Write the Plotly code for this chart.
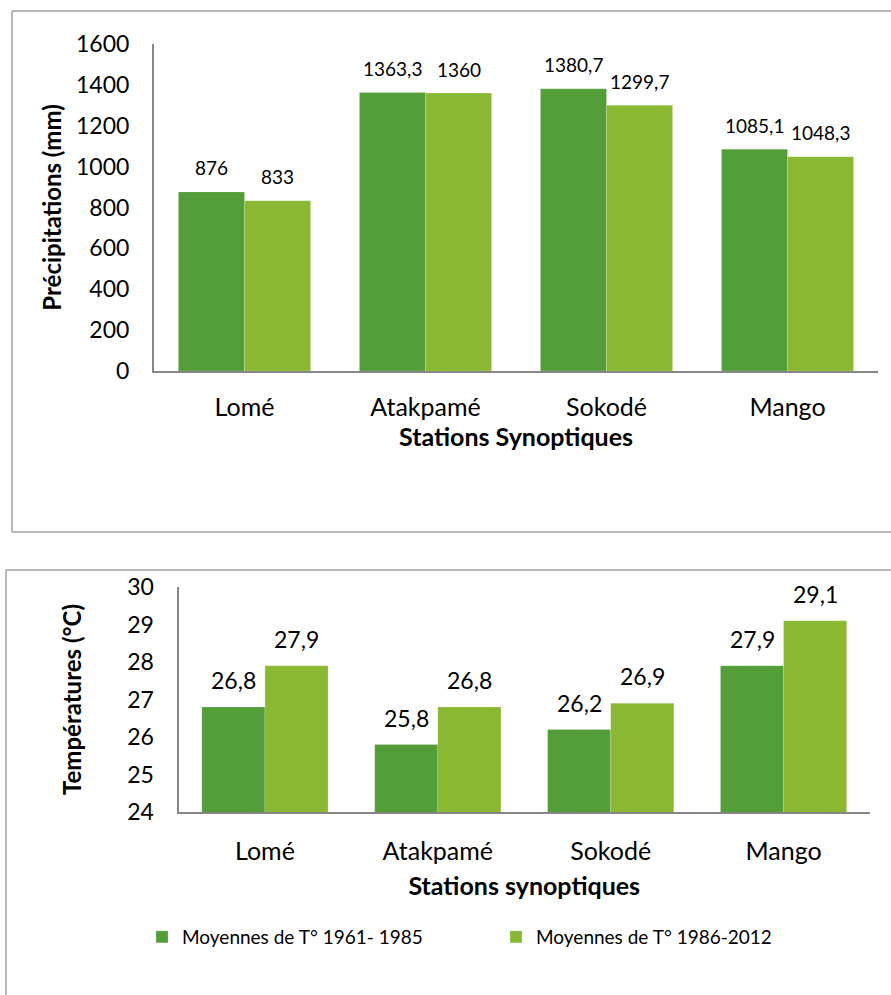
import plotly.graph_objects as go

# ---------------- data ----------------
stations = ["Lomé", "Atakpamé", "Sokodé", "Mango"]
series_names = ["Moyennes de T° 1961- 1985", "Moyennes de T° 1986-2012"]

precip_1961_1985 = [876, 1363.3, 1380.7, 1085.1]
precip_1986_2012 = [833, 1360, 1299.7, 1048.3]

temp_1961_1985 = [26.8, 25.8, 26.2, 27.9]
temp_1986_2012 = [27.9, 26.8, 26.9, 29.1]

precip_ticks = [0, 200, 400, 600, 800, 1000, 1200, 1400, 1600]
temp_ticks = [24, 25, 26, 27, 28, 29, 30]

# ---------------- styling ----------------
W, H = 891, 995
DARK = "#549E39"
LIGHT = "#8AB833"
AXIS = "#868686"
BORDER = "#A0A0A0"
FONT = "Lato"
BARGAP = 0.27


def fx(p):
    return p / W


def fy(p):
    return 1 - p / H


def fmt(v):
    return f"{v:g}".replace(".", ",")


top_dom_x = (154, 878)
top_dom_y = (371, 44)
bot_dom_x = (178.5, 870)
bot_dom_y = (812, 587)

fig = go.Figure()

for vals, name, col in [(precip_1961_1985, series_names[0], DARK),
                        (precip_1986_2012, series_names[1], LIGHT)]:
    fig.add_trace(go.Bar(x=stations, y=vals, name=name, marker_color=col,
                         marker_line=dict(color="rgba(255,255,255,0.35)", width=0.5),
                         xaxis="x", yaxis="y", showlegend=False))

for vals, name, col in [(temp_1961_1985, series_names[0], DARK),
                        (temp_1986_2012, series_names[1], LIGHT)]:
    fig.add_trace(go.Bar(x=stations, y=vals, name=name, marker_color=col,
                         marker_line=dict(color="rgba(255,255,255,0.35)", width=0.5),
                         xaxis="x2", yaxis="y2", showlegend=True))

annotations = []
# data labels, top chart
cat_w_top = (top_dom_x[1] - top_dom_x[0]) / len(stations)
bar_top = cat_w_top * (1 - BARGAP) / 2
for j, vals in enumerate([precip_1961_1985, precip_1986_2012]):
    sh = (-0.5 if j == 0 else 0.5) * bar_top
    for s, v in zip(stations, vals):
        annotations.append(dict(x=s, y=v, xref="x", yref="y", text=fmt(v),
                                showarrow=False, xshift=sh, yshift=24,
                                yanchor="middle",
                                font=dict(family=FONT, size=19, color="#000")))
# data labels, bottom chart
cat_w_bot = (bot_dom_x[1] - bot_dom_x[0]) / len(stations)
bar_bot = cat_w_bot * (1 - BARGAP) / 2
for j, vals in enumerate([temp_1961_1985, temp_1986_2012]):
    sh = (-0.5 if j == 0 else 0.5) * bar_bot
    for s, v in zip(stations, vals):
        annotations.append(dict(x=s, y=v, xref="x2", yref="y2", text=fmt(v),
                                showarrow=False, xshift=sh, yshift=27,
                                yanchor="middle",
                                font=dict(family=FONT, size=23, color="#000")))

shapes = [
    # top panel border
    dict(type="line", xref="paper", yref="paper", x0=fx(12), x1=1.05, y0=fy(11), y1=fy(11),
         line=dict(color=BORDER, width=1.5)),
    dict(type="line", xref="paper", yref="paper", x0=fx(12), x1=fx(12), y0=fy(11), y1=fy(532),
         line=dict(color=BORDER, width=1.5)),
    dict(type="line", xref="paper", yref="paper", x0=fx(12), x1=1.05, y0=fy(532), y1=fy(532),
         line=dict(color=BORDER, width=1.5)),
    # bottom panel border
    dict(type="line", xref="paper", yref="paper", x0=fx(6), x1=1.05, y0=fy(570), y1=fy(570),
         line=dict(color=BORDER, width=1.5)),
    dict(type="line", xref="paper", yref="paper", x0=fx(6), x1=fx(6), y0=fy(570), y1=-0.05,
         line=dict(color=BORDER, width=1.5)),
]

tickfont = dict(family=FONT, size=23, color="#000")
catfont = dict(family=FONT, size=25, color="#000")
titlefont = dict(family=FONT, size=25, color="#000")
ytitlefont = dict(family=FONT, size=24, color="#000")

fig.update_layout(
    width=W, height=H,
    margin=dict(l=0, r=0, t=0, b=0, autoexpand=False),
    paper_bgcolor="white", plot_bgcolor="white",
    barmode="group", bargap=BARGAP, bargroupgap=0,
    font=dict(family=FONT, color="#000"),
    annotations=annotations,
    shapes=shapes,
    xaxis=dict(domain=[fx(top_dom_x[0]), fx(top_dom_x[1])], anchor="y",
               showline=True, linecolor=AXIS, linewidth=2, ticks="",
               tickfont=catfont, ticklabelstandoff=13, showgrid=False,
               title=dict(text="<b>Stations Synoptiques</b>", font=titlefont, standoff=8)),
    yaxis=dict(domain=[fy(top_dom_y[0]), fy(top_dom_y[1])], anchor="x",
               range=[0, 1600], tickvals=precip_ticks, showgrid=False, zeroline=False,
               showline=True, linecolor=AXIS, linewidth=2, ticks="",
               tickfont=tickfont, ticklabelstandoff=18,
               title=dict(text="<b>Précipitations (mm)</b>", font=ytitlefont, standoff=8)),
    xaxis2=dict(domain=[fx(bot_dom_x[0]), fx(bot_dom_x[1])], anchor="y2",
                showline=True, linecolor=AXIS, linewidth=2, ticks="",
                tickfont=catfont, ticklabelstandoff=16, showgrid=False,
                title=dict(text="<b>Stations synoptiques</b>", font=titlefont, standoff=13)),
    yaxis2=dict(domain=[fy(bot_dom_y[0]), fy(bot_dom_y[1])], anchor="x2",
                range=[24, 30], tickvals=temp_ticks, showgrid=False, zeroline=False,
                showline=True, linecolor=AXIS, linewidth=2, ticks="",
                tickfont=tickfont, ticklabelstandoff=18,
                title=dict(text="<b>Températures (°C)</b>", font=ytitlefont, standoff=39)),
    legend=dict(orientation="h", x=fx(142), xanchor="left", y=fy(937), yanchor="middle",
                font=dict(family=FONT, size=19, color="#000"),
                entrywidth=309, entrywidthmode="pixels",
                bgcolor="rgba(0,0,0,0)", traceorder="normal"),
)

fig.write_html("out.html")
